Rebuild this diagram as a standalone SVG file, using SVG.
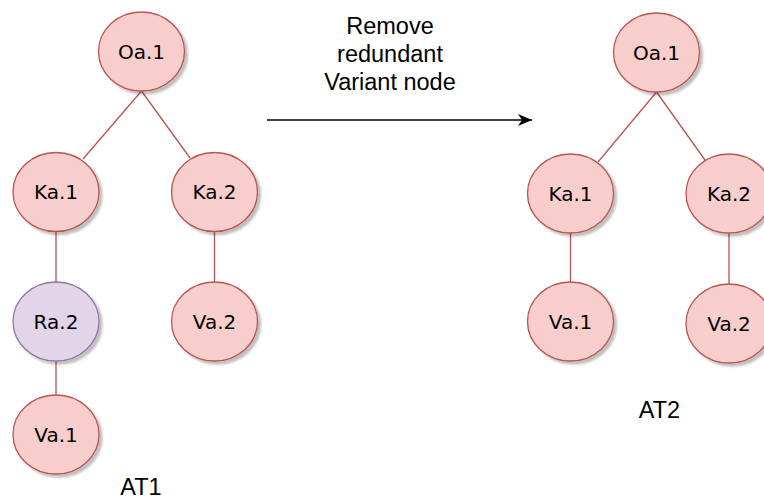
<svg xmlns="http://www.w3.org/2000/svg" width="764" height="499" viewBox="0 0 764 499">
  <style>
    .n ellipse { fill: #f8cecc; stroke: #b85450; stroke-width: 1.3; filter: url(#sh); }
    .n.p ellipse { fill: #e1d5e7; stroke: #9673a6; }
    .n text { font-family: "DejaVu Sans", Verdana, sans-serif; font-size: 20px; fill: #000; text-anchor: middle; }
    .e line { stroke: #b85450; stroke-width: 1.3; }
    .lbl { font-family: "Liberation Sans", Arial, Helvetica, sans-serif; font-size: 23.5px; fill: #000; text-anchor: middle; }
  </style>
  <defs>
    <filter id="sh" x="-20%" y="-20%" width="150%" height="150%">
      <feDropShadow dx="3" dy="3" stdDeviation="1" flood-color="#000" flood-opacity="0.25"/>
    </filter>
    <marker id="ah" markerWidth="16" markerHeight="14" refX="14" refY="7" orient="auto" markerUnits="userSpaceOnUse">
      <path d="M0,1 L14,7 L0,13 L4,7 Z" fill="#000"/>
    </marker>
  </defs>
  <rect width="764" height="499" fill="#fff"/>

  <g id="connectors" class="e">
    <line x1="141.5" y1="91" x2="83" y2="159"/>
    <line x1="141.5" y1="91" x2="190" y2="158"/>
    <line x1="56" y1="231.5" x2="56" y2="282"/>
    <line x1="214.5" y1="231.5" x2="214.5" y2="282"/>
    <line x1="56" y1="361" x2="56" y2="395"/>
    <line x1="656.5" y1="92" x2="598" y2="162"/>
    <line x1="656.5" y1="92" x2="705" y2="160"/>
    <line x1="570.5" y1="233" x2="570.5" y2="282"/>
    <line x1="729" y1="233" x2="729" y2="284"/>
    <line x1="267" y1="120" x2="532" y2="120" style="stroke:#000;stroke-width:1.3" marker-end="url(#ah)"/>
  </g>

  <g id="L-Oa1" class="n"><ellipse cx="141.5" cy="51.5" rx="43" ry="39.5"/><text x="141.5" y="58.5">Oa.1</text></g>
  <g id="L-Ka1" class="n"><ellipse cx="56" cy="192" rx="43" ry="39.5"/><text x="56" y="199">Ka.1</text></g>
  <g id="L-Ka2" class="n"><ellipse cx="214.5" cy="192" rx="43" ry="39.5"/><text x="214.5" y="199">Ka.2</text></g>
  <g id="L-Ra2" class="n p"><ellipse cx="56" cy="321.5" rx="43" ry="39.5"/><text x="56" y="328.5">Ra.2</text></g>
  <g id="L-Va2" class="n"><ellipse cx="214.5" cy="321.5" rx="43" ry="39.5"/><text x="214.5" y="328.5">Va.2</text></g>
  <g id="L-Va1" class="n"><ellipse cx="56" cy="434.5" rx="43" ry="39.5"/><text x="56" y="441.5">Va.1</text></g>

  <g id="R-Oa1" class="n"><ellipse cx="656.5" cy="52.5" rx="43" ry="39.5"/><text x="656.5" y="59.5">Oa.1</text></g>
  <g id="R-Ka1" class="n"><ellipse cx="570.5" cy="193.5" rx="43" ry="39.5"/><text x="570.5" y="200.5">Ka.1</text></g>
  <g id="R-Ka2" class="n"><ellipse cx="729" cy="193.5" rx="43" ry="39.5"/><text x="729" y="200.5">Ka.2</text></g>
  <g id="R-Va1" class="n"><ellipse cx="570.5" cy="321.5" rx="43" ry="39.5"/><text x="570.5" y="328.5">Va.1</text></g>
  <g id="R-Va2" class="n"><ellipse cx="729" cy="323.5" rx="43" ry="39.5"/><text x="729" y="330.5">Va.2</text></g>

  <g id="labels">
    <text class="lbl" x="390" y="34">Remove</text>
    <text class="lbl" x="390" y="62">redundant</text>
    <text class="lbl" x="390" y="90">Variant node</text>
    <text class="lbl" x="141" y="495">AT1</text>
    <text class="lbl" x="659.5" y="418">AT2</text>
  </g>
</svg>
